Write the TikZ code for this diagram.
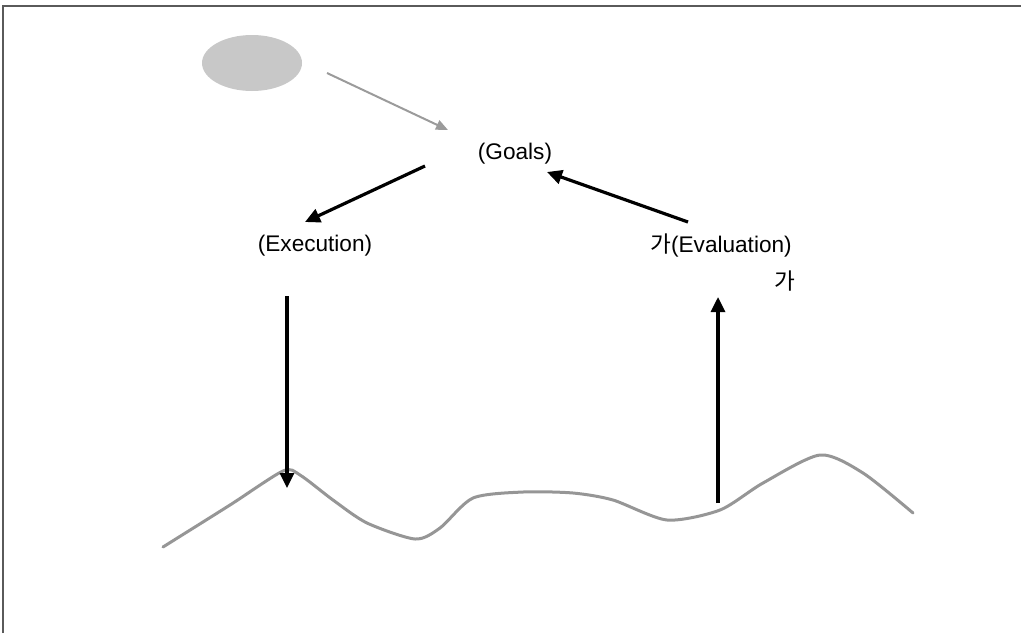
\documentclass[tikz,border=0pt]{standalone}
\usepackage{fontspec}
\setmainfont{Liberation Sans}
\newfontfamily\krfont{Noto Sans CJK KR}
\usetikzlibrary{positioning,arrows.meta,shapes.geometric}
\definecolor{cyFrame}{RGB}{90,90,90}
\definecolor{cyBlob}{RGB}{200,200,200}
\definecolor{cyWave}{RGB}{150,150,150}
\definecolor{cyHint}{RGB}{155,155,155}
\tikzset{
    base/.style={font=\fontsize{11.3}{13}\selectfont, align=center, inner sep=0pt},
    stage/.style={base, text=black},
    push/.style={-{Triangle[length=7.5pt,width=7pt]}, line width=1.6pt, color=black},
    hint/.style={-{Triangle[length=6pt,width=5pt]}, line width=1pt, color=cyHint}
}
\begin{document}
\begin{tikzpicture}[
    x=0.5pt, y=-0.5pt,
    blob/.style={ellipse, fill=cyBlob, minimum width=50pt, minimum height=28pt, inner sep=0pt},
    ground/.style={line width=1.5pt, color=cyWave, line join=round, line cap=round}
]
  \useasboundingbox (0,0) rectangle (1021,633);
  \draw[cyFrame, line width=0.8pt] (3,633) -- (3,6) -- (1021,6);

  \node[blob] (cloud) at (252,63) {};
  \node[stage] (goals) at (515,154) {(Goals)};
  \node[stage] (exec) at (315,246) {(Execution)};
  \node[stage] (eval) at (721,245) {{\krfont 가}(Evaluation)};
  \node[stage] (evalnote) at (785,281) {{\krfont 가}};

  % ends of the arrows
  \coordinate (cloud-out) at (327,73);
  \coordinate (goals-in) at (448,130);
  \coordinate (goals-out) at (425,166);
  \coordinate (exec-in) at (305,222);
  \coordinate (eval-out) at (688,222);
  \coordinate (goals-back) at (547,172);
  \coordinate (exec-down) at (287,296);
  \coordinate (peak) at (287,488);
  \coordinate (dip) at (718,503);
  \coordinate (eval-up) at (718,297);

  % the ground line
  \draw[ground] plot[smooth, tension=0.45] coordinates {
    (163,547) (230,505) (283,471) (300,475) (333,500) (367,523)
    (415,539) (440,528) (473,498) (523,492) (573,493) (613,500)
    (667,520) (720,510) (763,483) (820,455) (863,473) (913,513)};

  \draw[hint] (cloud-out) -- (goals-in);
  \draw[push] (goals-out) -- (exec-in);
  \draw[push] (eval-out) -- (goals-back);
  \draw[push] (exec-down) -- (peak);
  \draw[push] (dip) -- (eval-up);
\end{tikzpicture}
\end{document}
